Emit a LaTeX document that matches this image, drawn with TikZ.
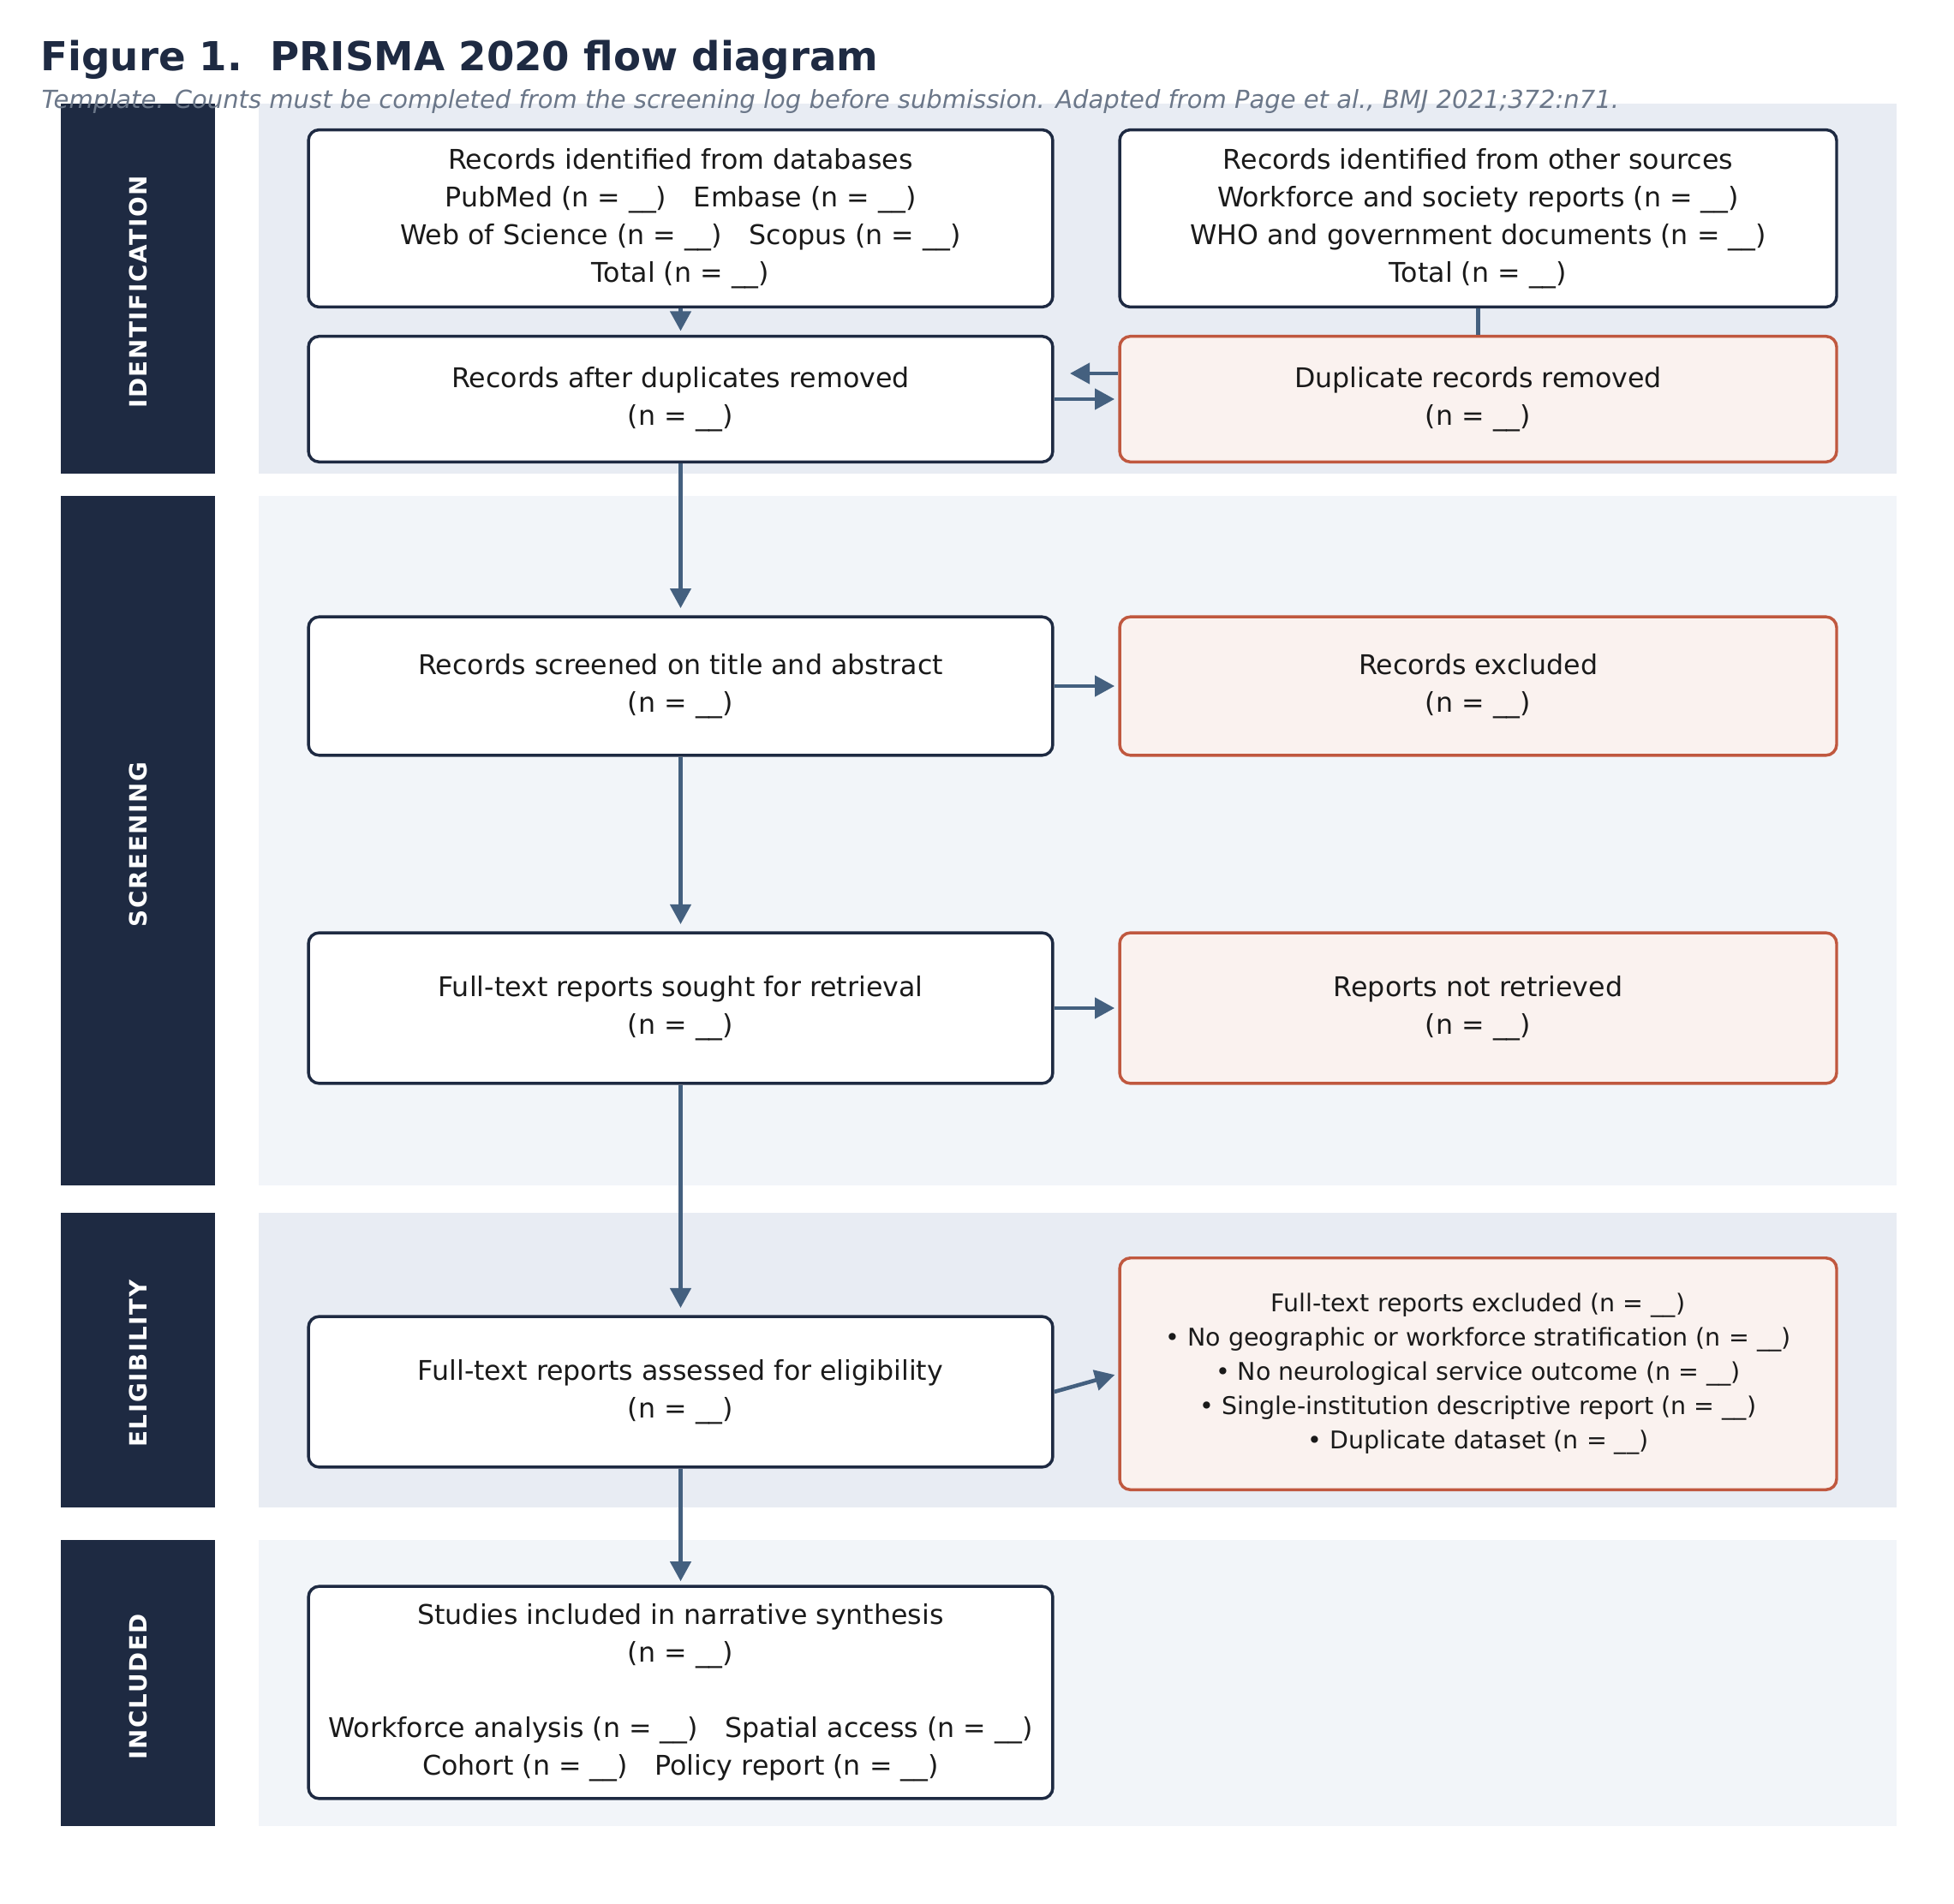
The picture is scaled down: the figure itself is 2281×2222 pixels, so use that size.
\documentclass[tikz,border=0pt]{standalone}
\usepackage{fontspec}
\setmainfont{DejaVu Sans}
\usetikzlibrary{arrows.meta}
\definecolor{navy}{HTML}{1E2A42}
\definecolor{bandA}{HTML}{E8ECF3}
\definecolor{bandB}{HTML}{F2F5F9}
\definecolor{flowc}{HTML}{44607F}
\definecolor{exred}{HTML}{C0583F}
\definecolor{exfill}{HTML}{FAF2EF}
\definecolor{ink}{HTML}{1A1A1A}
\definecolor{subgray}{HTML}{6B7789}
\begin{document}
\begin{tikzpicture}[x=0.36pt, y=-0.36pt,
		box/.style={draw=navy, line width=1.25pt, fill=white, rounded corners=4.5pt, align=center, text=ink, inner sep=0pt, font={\fontsize{11.4}{15.8}\selectfont}},
		exbox/.style={box, draw=exred, fill=exfill},
		bar/.style={text=white, rotate=90, font={\fontsize{10}{12}\selectfont\bfseries\addfontfeature{LetterSpace=6}}},
		flow/.style={draw=flowc, line width=1.65pt, -{Triangle[length=8.3pt,width=8.6pt]}}]
	\useasboundingbox (0,0) rectangle (2281,2222);
	\fill [bandA] (302,121) rectangle (2214,553);
	\fill [bandB] (302,579) rectangle (2214,1384);
	\fill [bandA] (302,1416) rectangle (2214,1760);
	\fill [bandB] (302,1798) rectangle (2214,2132);
	\fill [navy] (71,121) rectangle (251,553);
	\fill [navy] (71,579) rectangle (251,1384);
	\fill [navy] (71,1416) rectangle (251,1760);
	\fill [navy] (71,1798) rectangle (251,2132);
	\node [bar] (identlab) at (161,341) {IDENTIFICATION};
	\node [bar] (screenlab) at (161,986) {SCREENING};
	\node [bar] (eliglab) at (161,1592) {ELIGIBILITY};
	\node [bar] (incllab) at (161,1969) {INCLUDED};

	\node [box, minimum width=312.8pt, minimum height=74.5pt] (db) at (794.5,255) {Records identified from databases\\PubMed (n = \_\_)\quad Embase (n = \_\_)\\Web of Science (n = \_\_)\quad Scopus (n = \_\_)\\Total (n = \_\_)};
	\node [box, minimum width=301.3pt, minimum height=74.5pt] (other) at (1725.5,255) {Records identified from other sources\\Workforce and society reports (n = \_\_)\\WHO and government documents (n = \_\_)\\Total (n = \_\_)};
	\node [box, minimum width=312.8pt, minimum height=52.8pt] (dedup) at (794.5,466) {Records after duplicates removed\\(n = \_\_)};
	\node [exbox, minimum width=301.3pt, minimum height=52.8pt] (duprec) at (1725.5,466) {Duplicate records removed\\(n = \_\_)};
	\node [box, minimum width=312.8pt, minimum height=58.2pt] (screened) at (794.5,801) {Records screened on title and abstract\\(n = \_\_)};
	\node [exbox, minimum width=301.3pt, minimum height=58.2pt] (excluded) at (1725.5,801) {Records excluded\\(n = \_\_)};
	\node [box, minimum width=312.8pt, minimum height=63.3pt] (sought) at (794.5,1177) {Full-text reports sought for retrieval\\(n = \_\_)};
	\node [exbox, minimum width=301.3pt, minimum height=63.3pt] (notret) at (1725.5,1177) {Reports not retrieved\\(n = \_\_)};
	\node [box, minimum width=312.8pt, minimum height=63.3pt] (assessed) at (794.5,1625) {Full-text reports assessed for eligibility\\(n = \_\_)};
	\node [exbox, minimum width=301.3pt, minimum height=97.4pt, font={\fontsize{10.25}{14.4}\selectfont}] (ftex) at (1725.5,1604) {Full-text reports excluded (n = \_\_)\\• No geographic or workforce stratification (n = \_\_)\\• No neurological service outcome (n = \_\_)\\• Single-institution descriptive report (n = \_\_)\\• Duplicate dataset (n = \_\_)};
	\node [box, minimum width=312.8pt, minimum height=89.2pt] (included) at (794.5,1976) {Studies included in narrative synthesis\\(n = \_\_)\\~\\Workforce analysis (n = \_\_)\quad Spatial access (n = \_\_)\\Cohort (n = \_\_)\quad Policy report (n = \_\_)};

	\draw [flow, shorten >=1.6pt] (db) -- (dedup);
	\draw [flowc, line width=1.65pt] (other) -- (duprec);
	\coordinate (dupback) at (1249,436);
	\draw [flow] (duprec.west |- dupback) -- (dupback);
	\draw [flow, shorten >=1.5pt] (dedup) -- (duprec);
	\draw [flow, shorten >=3pt] (dedup) -- (screened);
	\draw [flow, shorten >=1.5pt] (screened) -- (excluded);
	\draw [flow, shorten >=3pt] (screened) -- (sought);
	\draw [flow, shorten >=1.5pt] (sought) -- (notret);
	\draw [flow, shorten >=3pt] (sought) -- (assessed);
	\draw [flow, shorten >=1.5pt] (assessed.east) -- (ftex.west);
	\draw [flow, shorten >=1.5pt] (assessed) -- (included);

	\node [anchor=base west, inner sep=0pt, text=navy, font={\fontsize{16.8}{20}\selectfont\bfseries}] (title) at (47,83) {Figure 1.\ \ PRISMA 2020 flow diagram};
	\node [anchor=base west, inner sep=0pt, text=subgray, font={\fontsize{10.45}{12.5}\selectfont\itshape}] (subtitle) at (48,127) {Template. Counts must be completed from the screening log before submission. Adapted from Page et al., BMJ 2021;372:n71.};
\end{tikzpicture}
\end{document}
